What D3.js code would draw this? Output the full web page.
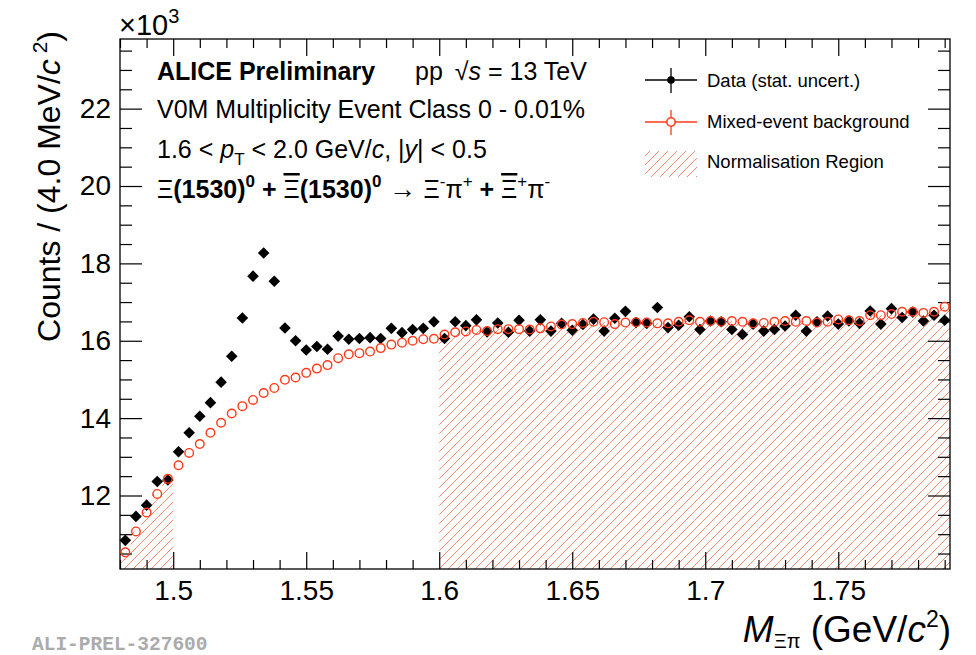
<!DOCTYPE html>
<html>
<head>
<meta charset="utf-8">
<script src="https://cdn.jsdelivr.net/npm/d3@7"></script>
<style>
  body { margin: 0; background: #fff; }
  svg { display: block; font-family: "Liberation Sans", Arial, sans-serif; }
</style>
</head>
<body>
<svg id="chart" width="976" height="655"></svg>
<script>
// invariant mass bin centres (GeV/c^2), 4 MeV bins
const massBins = [1.482, 1.486, 1.490, 1.494, 1.498, 1.502, 1.506, 1.510, 1.514, 1.518,
    1.522, 1.526, 1.530, 1.534, 1.538, 1.542, 1.546, 1.550, 1.554, 1.558,
    1.562, 1.566, 1.570, 1.574, 1.578, 1.582, 1.586, 1.590, 1.594, 1.598,
    1.602, 1.606, 1.610, 1.614, 1.618, 1.622, 1.626, 1.630, 1.634, 1.638,
    1.642, 1.646, 1.650, 1.654, 1.658, 1.662, 1.666, 1.670, 1.674, 1.678,
    1.682, 1.686, 1.690, 1.694, 1.698, 1.702, 1.706, 1.710, 1.714, 1.718,
    1.722, 1.726, 1.730, 1.734, 1.738, 1.742, 1.746, 1.750, 1.754, 1.758,
    1.762, 1.766, 1.770, 1.774, 1.778, 1.782, 1.786, 1.790];

// counts x10^3
const dataCounts = [10.84, 11.46, 11.75, 12.36, 12.40, 13.13, 13.62, 14.05, 14.40, 14.93,
    15.60, 16.59, 17.67, 18.27, 17.54, 16.33, 16.00, 15.76, 15.85, 15.78,
    16.12, 16.04, 16.06, 16.08, 16.06, 16.32, 16.21, 16.29, 16.32, 16.49,
    16.06, 16.49, 16.39, 16.54, 16.23, 16.46, 16.22, 16.53, 16.25, 16.54,
    16.25, 16.45, 16.27, 16.42, 16.56, 16.25, 16.58, 16.76, 16.47, 16.45,
    16.86, 16.34, 16.40, 16.62, 16.29, 16.51, 16.49, 16.29, 16.16, 16.43,
    16.25, 16.29, 16.38, 16.66, 16.25, 16.49, 16.64, 16.43, 16.51, 16.45,
    16.77, 16.43, 16.83, 16.60, 16.74, 16.51, 16.66, 16.53];

const mixedBkg = [10.53, 11.07, 11.56, 12.04, 12.43, 12.78, 13.10, 13.33, 13.62, 13.88,
    14.12, 14.31, 14.47, 14.65, 14.78, 14.99, 15.05, 15.17, 15.28, 15.37,
    15.55, 15.65, 15.68, 15.72, 15.81, 15.90, 15.95, 16.00, 16.04, 16.05,
    16.16, 16.22, 16.24, 16.28, 16.25, 16.30, 16.30, 16.30, 16.29, 16.32,
    16.37, 16.42, 16.43, 16.46, 16.49, 16.48, 16.43, 16.47, 16.48, 16.47,
    16.45, 16.45, 16.49, 16.53, 16.49, 16.51, 16.49, 16.51, 16.49, 16.45,
    16.46, 16.49, 16.51, 16.49, 16.51, 16.47, 16.49, 16.55, 16.53, 16.51,
    16.66, 16.66, 16.69, 16.75, 16.75, 16.72, 16.75, 16.88];

const normRegions = [[1.48, 1.50], [1.60, 1.792]];

const xTicks = [1.5, 1.55, 1.6, 1.65, 1.7, 1.75];
const xTickLabels = ["1.5", "1.55", "1.6", "1.65", "1.7", "1.75"];
const yTicks = [12, 14, 16, 18, 20, 22];
const yTickLabels = ["12", "14", "16", "18", "20", "22"];

const legendLabels = ["Data (stat. uncert.)", "Mixed-event background", "Normalisation Region"];

const binWidth = 0.004;
const red = "#ff3a1a";

const svg = d3.select("#chart");

const x = d3.scaleLinear().domain([1.48, 1.792]).range([120, 950]);
const y = d3.scaleLinear().domain([10.1, 23.8]).range([569, 39]);

// hatch pattern for normalisation region
const defs = svg.append("defs");
const pat = defs.append("pattern")
    .attr("id", "hatch")
    .attr("patternUnits", "userSpaceOnUse")
    .attr("width", 9)
    .attr("height", 9);
pat.append("path")
    .attr("d", "M-1,1 l2,-2 M0,9 l9,-9 M8,10 l2,-2")
    .attr("stroke", "#f48a72")
    .attr("stroke-width", 1)
    .attr("fill", "none");

// hatched bins (background histogram inside the normalisation windows)
const hatchBins = massBins.map((m, i) => ({ m: m, v: mixedBkg[i] }))
    .filter(d => normRegions.some(r => d.m > r[0] && d.m < r[1]));

svg.append("g")
    .selectAll("rect")
    .data(hatchBins)
    .join("rect")
    .attr("x", d => x(d.m - binWidth / 2))
    .attr("width", d => x(d.m + binWidth / 2) - x(d.m - binWidth / 2))
    .attr("y", d => y(d.v))
    .attr("height", d => y.range()[0] - y(d.v))
    .attr("fill", "url(#hatch)");

// axes (ROOT style: ticks inside, on all four sides)
const xMinor = d3.range(1.48, 1.7925, 0.01).filter(v => !xTicks.some(t => Math.abs(t - v) < 1e-6));
const yMinor = d3.range(10.5, 23.8, 0.5).filter(v => !yTicks.includes(v));

function styleAxis(g) {
    g.select(".domain").remove();
    g.selectAll(".tick line").attr("stroke", "#000").attr("stroke-width", 1.2);
    g.selectAll("text").attr("fill", "#000");
}

const xFmt = (d, i) => xTickLabels[i];
const yFmt = (d, i) => yTickLabels[i];

svg.append("g").attr("transform", "translate(0,569)")
    .call(d3.axisBottom(x).tickValues(xTicks).tickFormat(xFmt).tickSize(-17).tickPadding(11))
    .call(styleAxis)
    .selectAll("text").style("font-size", "28px").style("font-family", "Liberation Sans, Arial, sans-serif");
svg.append("g").attr("transform", "translate(0,569)")
    .call(d3.axisBottom(x).tickValues(xMinor).tickFormat("").tickSize(-9))
    .call(styleAxis);
svg.append("g").attr("transform", "translate(0,39)")
    .call(d3.axisTop(x).tickValues(xTicks).tickFormat("").tickSize(-17))
    .call(styleAxis);
svg.append("g").attr("transform", "translate(0,39)")
    .call(d3.axisTop(x).tickValues(xMinor).tickFormat("").tickSize(-9))
    .call(styleAxis);

svg.append("g").attr("transform", "translate(120,0)")
    .call(d3.axisLeft(y).tickValues(yTicks).tickFormat(yFmt).tickSize(-22).tickPadding(9))
    .call(styleAxis)
    .selectAll("text").style("font-size", "28px").style("font-family", "Liberation Sans, Arial, sans-serif");
svg.append("g").attr("transform", "translate(120,0)")
    .call(d3.axisLeft(y).tickValues(yMinor).tickFormat("").tickSize(-12))
    .call(styleAxis);
svg.append("g").attr("transform", "translate(950,0)")
    .call(d3.axisRight(y).tickValues(yTicks).tickFormat("").tickSize(-22))
    .call(styleAxis);
svg.append("g").attr("transform", "translate(950,0)")
    .call(d3.axisRight(y).tickValues(yMinor).tickFormat("").tickSize(-12))
    .call(styleAxis);

// frame
svg.append("rect")
    .attr("x", 120).attr("y", 39)
    .attr("width", 830).attr("height", 530)
    .attr("fill", "none").attr("stroke", "#000").attr("stroke-width", 1.3);

// data points: filled diamonds
svg.append("g")
    .selectAll("path")
    .data(dataCounts)
    .join("path")
    .attr("transform", (d, i) => `translate(${x(massBins[i])},${y(d)})`)
    .attr("d", "M0,-5.8L5.8,0L0,5.8L-5.8,0Z")
    .attr("fill", "#000");

// mixed-event background: open circles
const bkg = svg.append("g");
bkg.selectAll("circle")
    .data(mixedBkg)
    .join("circle")
    .attr("cx", (d, i) => x(massBins[i]))
    .attr("cy", d => y(d))
    .attr("r", 4.3)
    .attr("fill", "none")
    .attr("stroke", red)
    .attr("stroke-width", 1.4);

// rich text helper
function rich(sel, parts, base) {
    let shift = 0;
    parts.forEach(p => {
        const s = p.s || 0;
        const t = sel.append("tspan")
            .attr("dy", s - shift)
            .style("font-size", (p.fs || base) + "px")
            .style("font-weight", p.w || "normal")
            .style("font-style", p.i ? "italic" : "normal")
            .text(p.t);
        if (p.over) t.style("text-decoration", "overline");
        if (p.dx) t.attr("dx", p.dx);
        shift = s;
    });
}

// x10^3
rich(svg.append("text").attr("x", 119).attr("y", 35).attr("fill", "#000"),
    [{ t: "×10" }, { t: "3", fs: 20, s: -12 }], 29);

// axis titles
rich(svg.append("text")
        .attr("transform", "translate(60,31) rotate(-90)")
        .attr("text-anchor", "end")
        .attr("fill", "#000"),
    [{ t: "Counts / (4.0 MeV/" }, { t: "c", i: true }, { t: " 2", fs: 21, s: -13 }, { t: ")" }], 32);

rich(svg.append("text")
        .attr("x", 951).attr("y", 642)
        .attr("text-anchor", "end")
        .attr("fill", "#000"),
    [{ t: "M", i: true }, { t: "Ξπ", fs: 20, s: 6 }, { t: " (GeV/" }, { t: "c", i: true },
     { t: "2", fs: 23, s: -15 }, { t: ")" }], 37);

// header texts
const hx = 157;
svg.append("text").attr("x", hx).attr("y", 80)
    .style("font-size", "25px").style("font-weight", "bold")
    .text("ALICE Preliminary");
rich(svg.append("text").attr("x", 415).attr("y", 80),
    [{ t: "pp" }, { t: "√", dx: 12 }, { t: "s", i: true }, { t: " = 13 TeV" }], 25);
svg.append("text").attr("x", hx).attr("y", 118)
    .style("font-size", "25px")
    .text("V0M Multiplicity Event Class 0 - 0.01%");
rich(svg.append("text").attr("x", hx).attr("y", 158),
    [{ t: "1.6 < " }, { t: "p", i: true }, { t: "T", fs: 17, s: 7 }, { t: " < 2.0 GeV/" },
     { t: "c", i: true }, { t: ", |" }, { t: "y", i: true }, { t: "| < 0.5" }], 25);
rich(svg.append("text").attr("x", hx).attr("y", 198),
    [{ t: "Ξ" }, { t: "(1530)", w: "bold" }, { t: "0", w: "bold", fs: 17, s: -11 },
     { t: " + ", w: "bold" }, { t: "Ξ", over: true }, { t: "(1530)", w: "bold" },
     { t: "0", w: "bold", fs: 17, s: -11 }, { t: " → ", fs: 27 }, { t: "Ξ" }, { t: "-", fs: 17, s: -11 },
     { t: "π" }, { t: "+", fs: 17, s: -11 }, { t: " + ", w: "bold" }, { t: "Ξ", over: true },
     { t: "+", fs: 17, s: -11 }, { t: "π" }, { t: "-", fs: 17, s: -11 }], 25);

// legend
const lg = svg.append("g");
const lx0 = 645, lx1 = 697, lxm = 671;
lg.append("line").attr("x1", lx0).attr("x2", lx1).attr("y1", 80).attr("y2", 80)
    .attr("stroke", "#000").attr("stroke-width", 1.3);
lg.append("line").attr("x1", lxm).attr("x2", lxm).attr("y1", 68).attr("y2", 93)
    .attr("stroke", "#000").attr("stroke-width", 1.3);
lg.append("circle").attr("cx", lxm).attr("cy", 80).attr("r", 3.8).attr("fill", "#000");
lg.append("line").attr("x1", lx0).attr("x2", lx1).attr("y1", 122).attr("y2", 122)
    .attr("stroke", red).attr("stroke-width", 1.3);
lg.append("line").attr("x1", lxm).attr("x2", lxm).attr("y1", 110).attr("y2", 135)
    .attr("stroke", red).attr("stroke-width", 1.3);
lg.append("circle").attr("cx", lxm).attr("cy", 122).attr("r", 4.2)
    .attr("fill", "#fff").attr("stroke", red).attr("stroke-width", 1.6);
lg.append("rect").attr("x", lx0).attr("y", 151).attr("width", lx1 - lx0).attr("height", 26)
    .attr("fill", "url(#hatch)");
lg.selectAll("text.leg")
    .data(legendLabels)
    .join("text")
    .attr("class", "leg")
    .attr("x", 707)
    .attr("y", (d, i) => [86.5, 127.5, 168][i])
    .style("font-size", "18.5px")
    .text(d => d);

// preliminary figure id
svg.append("text")
    .attr("x", 32).attr("y", 650)
    .style("font-family", "Liberation Mono, Courier New, monospace")
    .style("font-weight", "bold")
    .style("font-size", "19.5px")
    .attr("fill", "#ababab")
    .text("ALI-PREL-327600");
</script>
</body>
</html>
